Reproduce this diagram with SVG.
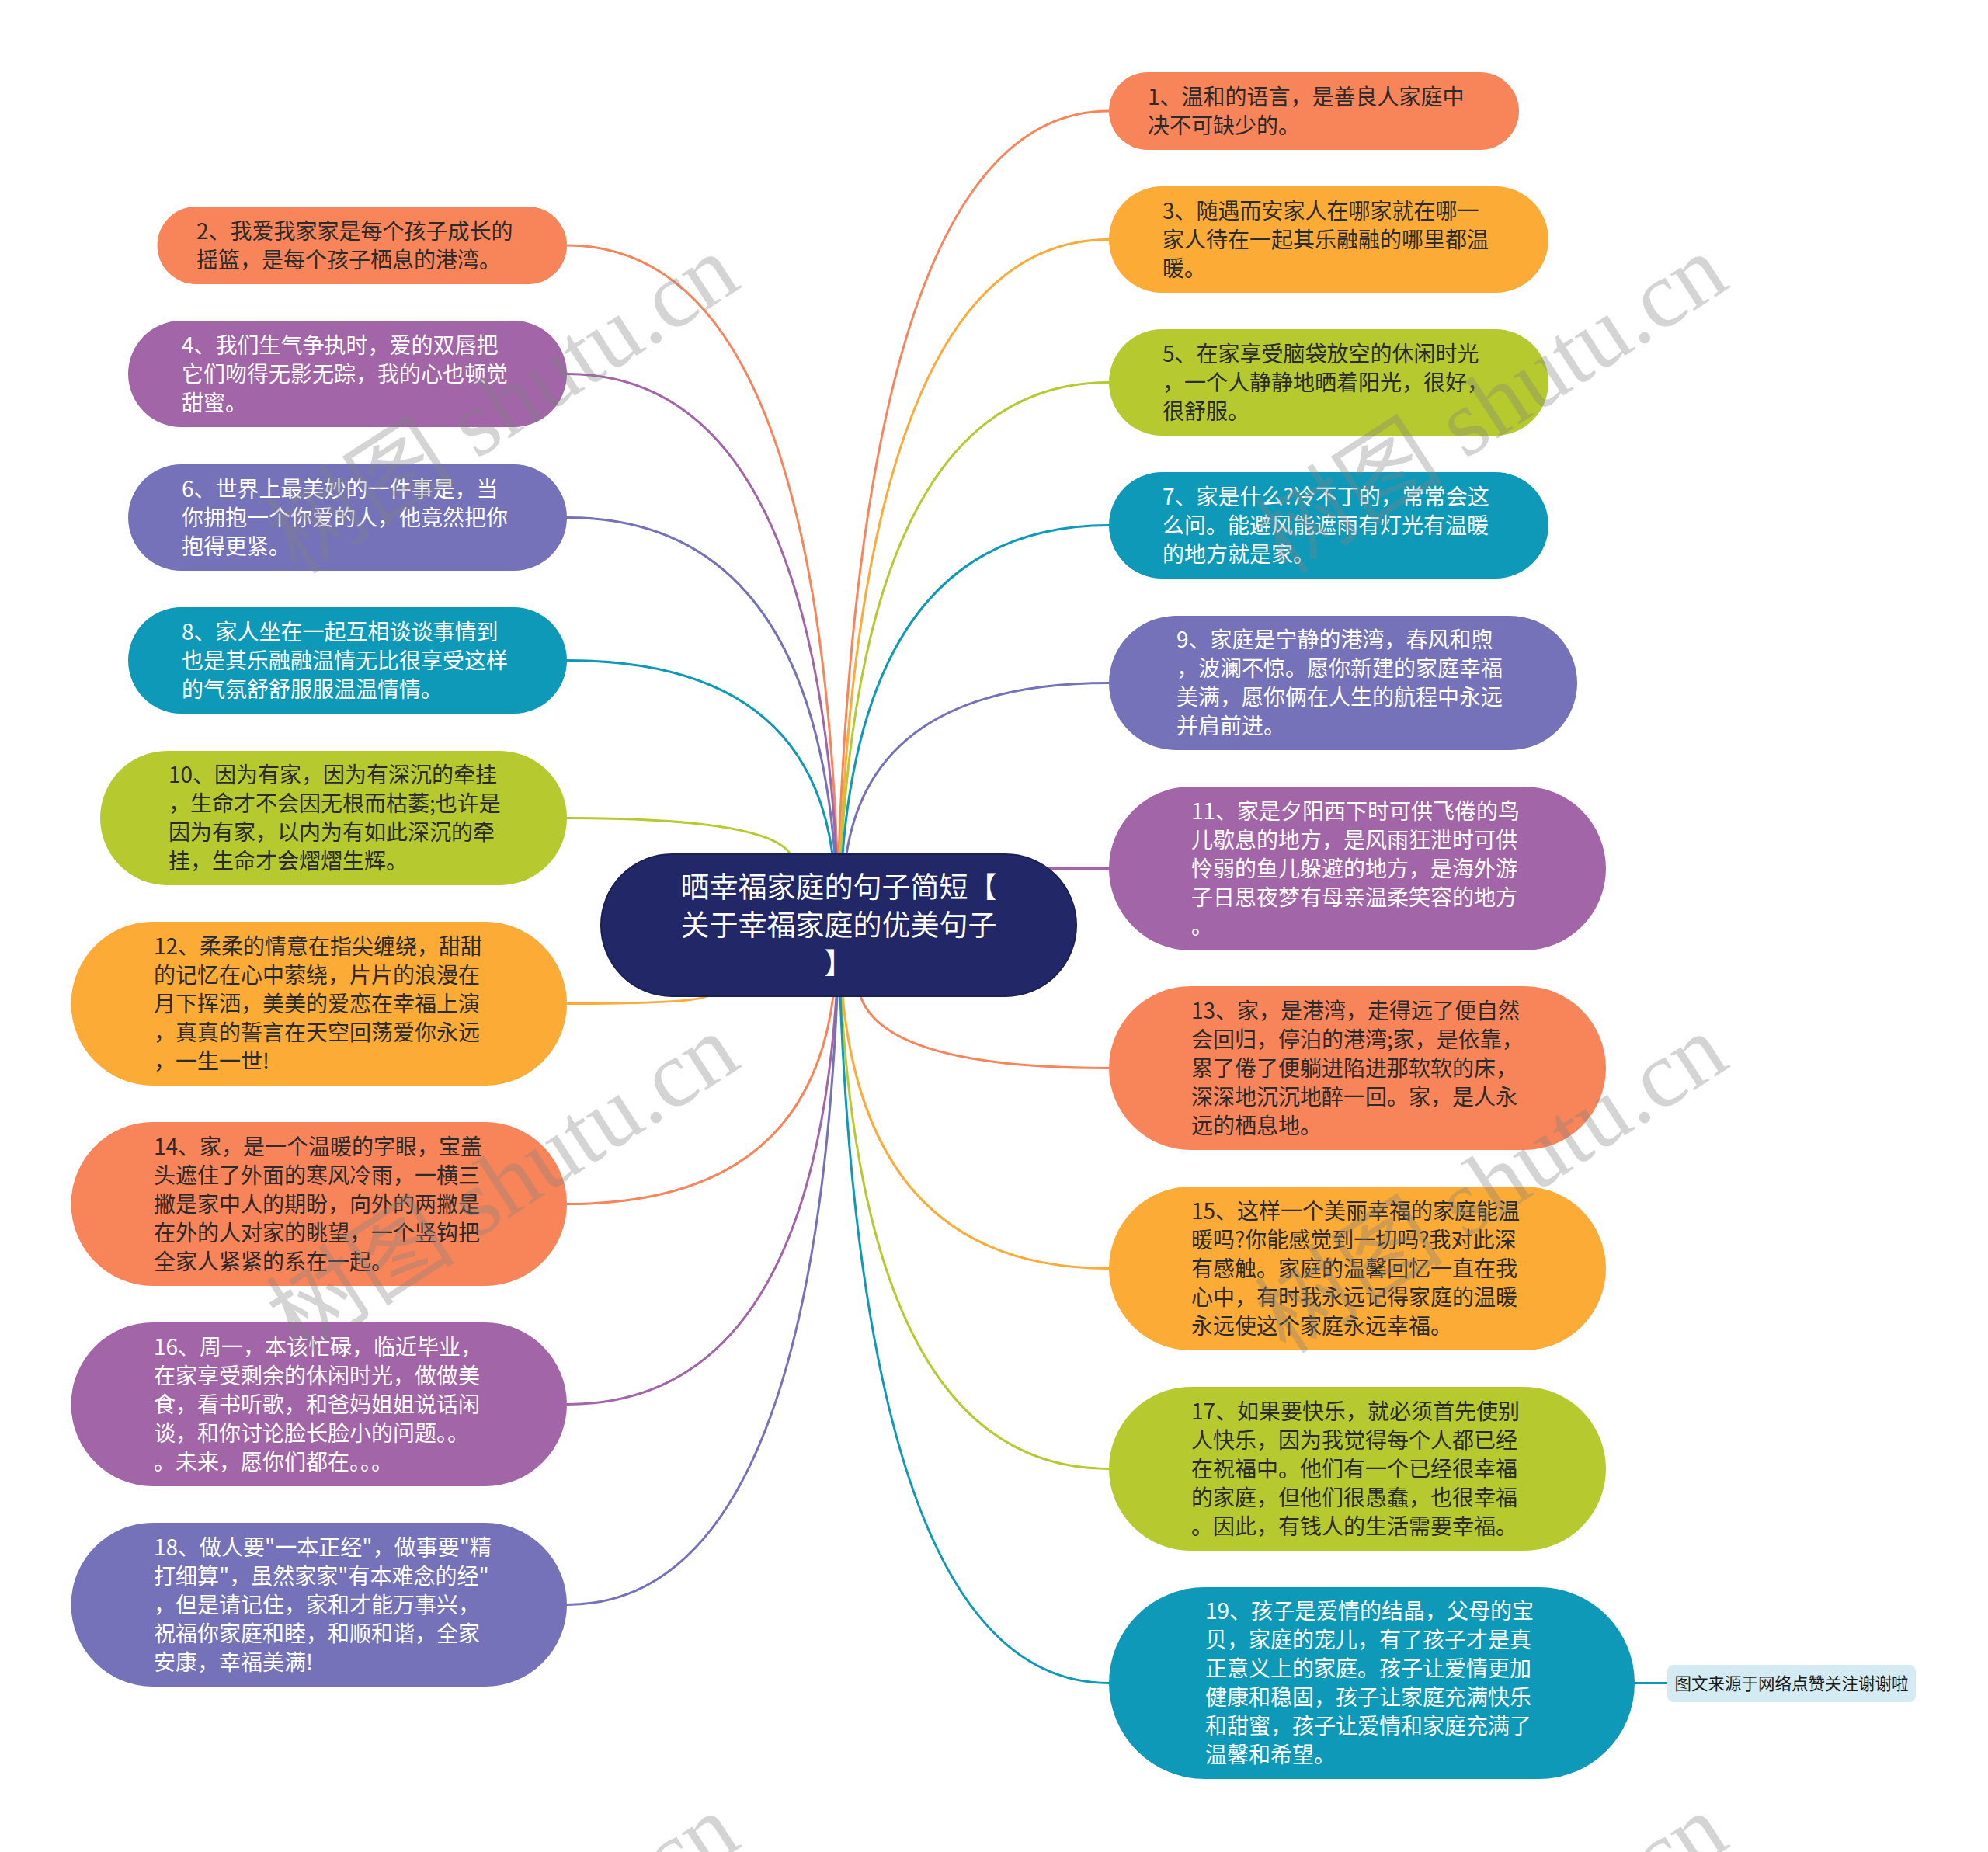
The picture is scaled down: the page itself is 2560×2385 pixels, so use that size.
<svg xmlns="http://www.w3.org/2000/svg" width="2560" height="2385" viewBox="0 0 2560 2385">
<style>
.t{font-family:"Noto Sans CJK SC","Noto Sans",sans-serif;font-size:28px}
.d{fill:#2b2b2b}
.w{fill:#ffffff}
.or{fill:#F8845A}
.ye{fill:#FCAB37}
.gr{fill:#B6CA2F}
.te{fill:#0F99B9}
.bp{fill:#7572BA}
.pu{fill:#A265A8}
.c path{fill:none;stroke-width:3}
.wm{font-family:"Liberation Serif","Noto Sans CJK SC",serif;font-size:122px;fill:#808080;fill-opacity:0.34}
</style>
<rect width="2560" height="2385" fill="#ffffff"/>
<g id="connectors" class="c">
<path d="M1080 1100 Q1115 143 1428 143" stroke="#F8845A"/>
<path d="M1082 1100 Q1117 308.5 1428 308.5" stroke="#FCAB37"/>
<path d="M1083 1100 Q1118 492.5 1428 492.5" stroke="#B6CA2F"/>
<path d="M1085 1100 Q1119 676.5 1428 676.5" stroke="#0F99B9"/>
<path d="M1090 1100 Q1124 879.5 1428 879.5" stroke="#7572BA"/>
<path d="M1349 1118.5 L1428 1118.5" stroke="#A265A8"/>
<path d="M1108 1283 Q1140 1375.5 1428 1375.5" stroke="#F8845A"/>
<path d="M1085 1283 Q1119 1633.5 1428 1633.5" stroke="#FCAB37"/>
<path d="M1083 1283 Q1118 1891.5 1428 1891.5" stroke="#B6CA2F"/>
<path d="M1082 1283 Q1117 2167.5 1428 2167.5" stroke="#0F99B9"/>
<path d="M2104 2167.5 L2147 2167.5" stroke="#0F99B9"/>
<path d="M1078 1100 Q1048 316 730 316" stroke="#F8845A"/>
<path d="M1077 1100 Q1042 481.5 730 481.5" stroke="#A265A8"/>
<path d="M1075 1100 Q1040 666.5 730 666.5" stroke="#7572BA"/>
<path d="M1072 1100 Q1038 850.5 730 850.5" stroke="#0F99B9"/>
<path d="M1018 1100 Q989 1053.5 730 1053.5" stroke="#B6CA2F"/>
<path d="M910 1283 Q892 1292.5 730 1292.5" stroke="#FCAB37"/>
<path d="M1073 1283 Q1039 1550.5 730 1550.5" stroke="#F8845A"/>
<path d="M1077 1283 Q1042 1808.5 730 1808.5" stroke="#A265A8"/>
<path d="M1078 1283 Q1043 2066.5 730 2066.5" stroke="#7572BA"/>
</g>
<g id="center">
<rect x="774" y="1100" width="612" height="183" rx="91.5" fill="#212767" stroke="#1a1f55" stroke-width="2"/>
<text class="t w" style="font-size:37px" text-anchor="middle"><tspan x="1080" y="1156">晒幸福家庭的句子简短【</tspan><tspan x="1080" y="1205">关于幸福家庭的优美句子</tspan><tspan x="1080" y="1254">】</tspan></text>
</g>
<g id="n1"><rect class="or" x="1428" y="93" width="528" height="100" rx="50"/><text class="t d"><tspan x="1478" y="134.5">1、温和的语言，是善良人家庭中</tspan><tspan x="1478" y="171.5">决不可缺少的。</tspan></text></g>
<g id="n3"><rect class="ye" x="1428" y="240" width="566" height="137" rx="68.5"/><text class="t d"><tspan x="1497" y="282">3、随遇而安家人在哪家就在哪一</tspan><tspan x="1497" y="319">家人待在一起其乐融融的哪里都温</tspan><tspan x="1497" y="356">暖。</tspan></text></g>
<g id="n5"><rect class="gr" x="1428" y="424" width="566" height="137" rx="68.5"/><text class="t d"><tspan x="1497" y="466">5、在家享受脑袋放空的休闲时光</tspan><tspan x="1497" y="503">，一个人静静地晒着阳光，很好，</tspan><tspan x="1497" y="540">很舒服。</tspan></text></g>
<g id="n7"><rect class="te" x="1428" y="608" width="566" height="137" rx="68.5"/><text class="t w"><tspan x="1497" y="650">7、家是什么?冷不丁的，常常会这</tspan><tspan x="1497" y="687">么问。能避风能遮雨有灯光有温暖</tspan><tspan x="1497" y="724">的地方就是家。</tspan></text></g>
<g id="n9"><rect class="bp" x="1428" y="793" width="603" height="173" rx="86.5"/><text class="t w"><tspan x="1515" y="834">9、家庭是宁静的港湾，春风和煦</tspan><tspan x="1515" y="871">，波澜不惊。愿你新建的家庭幸福</tspan><tspan x="1515" y="908">美满，愿你俩在人生的航程中永远</tspan><tspan x="1515" y="945">并肩前进。</tspan></text></g>
<g id="n11"><rect class="pu" x="1428" y="1013" width="640" height="211" rx="105.5"/><text class="t w"><tspan x="1534" y="1054.5">11、家是夕阳西下时可供飞倦的鸟</tspan><tspan x="1534" y="1091.5">儿歇息的地方，是风雨狂泄时可供</tspan><tspan x="1534" y="1128.5">怜弱的鱼儿躲避的地方，是海外游</tspan><tspan x="1534" y="1165.5">子日思夜梦有母亲温柔笑容的地方</tspan><tspan x="1534" y="1202.5">。</tspan></text></g>
<g id="n13"><rect class="or" x="1428" y="1270" width="640" height="211" rx="105.5"/><text class="t d"><tspan x="1534" y="1311.5">13、家，是港湾，走得远了便自然</tspan><tspan x="1534" y="1348.5">会回归，停泊的港湾;家，是依靠，</tspan><tspan x="1534" y="1385.5">累了倦了便躺进陷进那软软的床，</tspan><tspan x="1534" y="1422.5">深深地沉沉地醉一回。家，是人永</tspan><tspan x="1534" y="1459.5">远的栖息地。</tspan></text></g>
<g id="n15"><rect class="ye" x="1428" y="1528" width="640" height="211" rx="105.5"/><text class="t d"><tspan x="1534" y="1569.5">15、这样一个美丽幸福的家庭能温</tspan><tspan x="1534" y="1606.5">暖吗?你能感觉到一切吗?我对此深</tspan><tspan x="1534" y="1643.5">有感触。家庭的温馨回忆一直在我</tspan><tspan x="1534" y="1680.5">心中，有时我永远记得家庭的温暖</tspan><tspan x="1534" y="1717.5">永远使这个家庭永远幸福。</tspan></text></g>
<g id="n17"><rect class="gr" x="1428" y="1786" width="640" height="211" rx="105.5"/><text class="t d"><tspan x="1534" y="1827.5">17、如果要快乐，就必须首先使别</tspan><tspan x="1534" y="1864.5">人快乐，因为我觉得每个人都已经</tspan><tspan x="1534" y="1901.5">在祝福中。他们有一个已经很幸福</tspan><tspan x="1534" y="1938.5">的家庭，但他们很愚蠢，也很幸福</tspan><tspan x="1534" y="1975.5">。因此，有钱人的生活需要幸福。</tspan></text></g>
<g id="n19"><rect class="te" x="1428" y="2044" width="677" height="247" rx="123.5"/><text class="t w"><tspan x="1552" y="2084.5">19、孩子是爱情的结晶，父母的宝</tspan><tspan x="1552" y="2121.5">贝，家庭的宠儿，有了孩子才是真</tspan><tspan x="1552" y="2158.5">正意义上的家庭。孩子让爱情更加</tspan><tspan x="1552" y="2195.5">健康和稳固，孩子让家庭充满快乐</tspan><tspan x="1552" y="2232.5">和甜蜜，孩子让爱情和家庭充满了</tspan><tspan x="1552" y="2269.5">温馨和希望。</tspan></text></g>
<g id="source"><rect x="2147" y="2144" width="320" height="48" rx="8" fill="#D5EBF3"/><text class="t" style="font-size:21.5px;fill:#1a1a1a" x="2307" y="2176" text-anchor="middle">图文来源于网络点赞关注谢谢啦</text></g>
<g id="n2"><rect class="or" x="202.5" y="266" width="527.5" height="100" rx="50"/><text class="t d"><tspan x="253" y="307.5">2、我爱我家家是每个孩子成长的</tspan><tspan x="253" y="344.5">摇篮，是每个孩子栖息的港湾。</tspan></text></g>
<g id="n4"><rect class="pu" x="165" y="413" width="565" height="137" rx="68.5"/><text class="t w"><tspan x="234" y="455">4、我们生气争执时，爱的双唇把</tspan><tspan x="234" y="492">它们吻得无影无踪，我的心也顿觉</tspan><tspan x="234" y="529">甜蜜。</tspan></text></g>
<g id="n6"><rect class="bp" x="165" y="598" width="565" height="137" rx="68.5"/><text class="t w"><tspan x="234" y="640">6、世界上最美妙的一件事是，当</tspan><tspan x="234" y="677">你拥抱一个你爱的人，他竟然把你</tspan><tspan x="234" y="714">抱得更紧。</tspan></text></g>
<g id="n8"><rect class="te" x="165" y="782" width="565" height="137" rx="68.5"/><text class="t w"><tspan x="234" y="824">8、家人坐在一起互相谈谈事情到</tspan><tspan x="234" y="861">也是其乐融融温情无比很享受这样</tspan><tspan x="234" y="898">的气氛舒舒服服温温情情。</tspan></text></g>
<g id="n10"><rect class="gr" x="129" y="967" width="601" height="173" rx="86.5"/><text class="t d"><tspan x="217" y="1008">10、因为有家，因为有深沉的牵挂</tspan><tspan x="217" y="1045">，生命才不会因无根而枯萎;也许是</tspan><tspan x="217" y="1082">因为有家，以内为有如此深沉的牵</tspan><tspan x="217" y="1119">挂，生命才会熠熠生辉。</tspan></text></g>
<g id="n12"><rect class="ye" x="91.5" y="1187" width="638.5" height="211" rx="105.5"/><text class="t d"><tspan x="198" y="1228.5">12、柔柔的情意在指尖缠绕，甜甜</tspan><tspan x="198" y="1265.5">的记忆在心中萦绕，片片的浪漫在</tspan><tspan x="198" y="1302.5">月下挥洒，美美的爱恋在幸福上演</tspan><tspan x="198" y="1339.5">，真真的誓言在天空回荡爱你永远</tspan><tspan x="198" y="1376.5">，一生一世!</tspan></text></g>
<g id="n14"><rect class="or" x="91.5" y="1445" width="638.5" height="211" rx="105.5"/><text class="t d"><tspan x="198" y="1486.5">14、家，是一个温暖的字眼，宝盖</tspan><tspan x="198" y="1523.5">头遮住了外面的寒风冷雨，一横三</tspan><tspan x="198" y="1560.5">撇是家中人的期盼，向外的两撇是</tspan><tspan x="198" y="1597.5">在外的人对家的眺望，一个竖钩把</tspan><tspan x="198" y="1634.5">全家人紧紧的系在一起。</tspan></text></g>
<g id="n16"><rect class="pu" x="91.5" y="1703" width="638.5" height="211" rx="105.5"/><text class="t w"><tspan x="198" y="1744.5">16、周一，本该忙碌，临近毕业，</tspan><tspan x="198" y="1781.5">在家享受剩余的休闲时光，做做美</tspan><tspan x="198" y="1818.5">食，看书听歌，和爸妈姐姐说话闲</tspan><tspan x="198" y="1855.5">谈，和你讨论脸长脸小的问题。。</tspan><tspan x="198" y="1892.5">。未来，愿你们都在。。。</tspan></text></g>
<g id="n18"><rect class="bp" x="91.5" y="1961" width="638.5" height="211" rx="105.5"/><text class="t w"><tspan x="198" y="2002.5">18、做人要"一本正经"，做事要"精</tspan><tspan x="198" y="2039.5">打细算"，虽然家家"有本难念的经"</tspan><tspan x="198" y="2076.5">，但是请记住，家和才能万事兴，</tspan><tspan x="198" y="2113.5">祝福你家庭和睦，和顺和谐，全家</tspan><tspan x="198" y="2150.5">安康，幸福美满!</tspan></text></g>
<g id="watermarks" class="wm" text-anchor="middle">
<text transform="translate(670 555) rotate(-33)">树图 shutu.cn</text>
<text transform="translate(1943 555) rotate(-33)">树图 shutu.cn</text>
<text transform="translate(670 1559) rotate(-33)">树图 shutu.cn</text>
<text transform="translate(1943 1559) rotate(-33)">树图 shutu.cn</text>
<text transform="translate(670 2563) rotate(-33)">树图 shutu.cn</text>
<text transform="translate(1943 2563) rotate(-33)">树图 shutu.cn</text>
</g>
</svg>
